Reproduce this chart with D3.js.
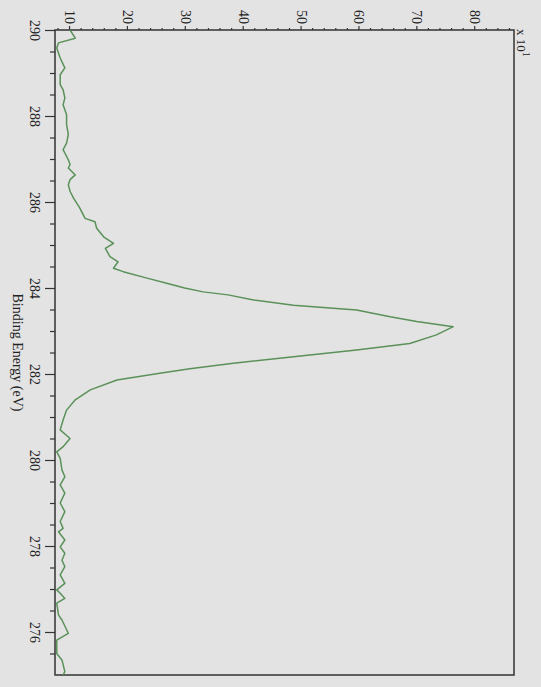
<!DOCTYPE html>
<html>
<head>
<meta charset="utf-8">
<script src="https://cdn.jsdelivr.net/npm/d3@7"></script>
<style>
  body { margin: 0; background: #e3e3e3; }
  svg { display: block; }
  text { font-family: "Liberation Serif", "DejaVu Serif", serif; }
</style>
</head>
<body>
<div id="graph_01"></div>
<script>
// Binding energy (eV) and counts (x10^1)
const energy = [
  290.00, 289.81, 289.70, 289.58, 289.35, 289.12, 288.96, 288.73, 288.61, 288.42,
  288.26, 288.03, 287.80, 287.57, 287.37, 287.22, 287.14, 286.98, 286.87, 286.79,
  286.63, 286.52, 286.40, 286.25, 286.09, 285.88, 285.62, 285.54, 285.39, 285.19,
  285.04, 284.92, 284.73, 284.61, 284.46, 284.38, 284.23, 284.11, 284.00, 283.91,
  283.84, 283.72, 283.60, 283.49, 283.33, 283.22, 283.10, 282.91, 282.71, 282.56,
  282.40, 282.25, 282.12, 282.02, 281.86, 281.63, 281.40, 281.16, 280.93, 280.70,
  280.50, 280.31, 280.19, 280.04, 279.77, 279.61, 279.42, 279.23, 279.00, 278.80,
  278.57, 278.41, 278.33, 278.14, 277.98, 277.83, 277.67, 277.52, 277.33, 277.13,
  276.98, 276.90, 276.78, 276.67, 276.40, 276.28, 275.97, 275.81, 275.50, 275.35,
  275.08, 275.00
];
const counts = [
  10.0, 10.9, 8.0, 7.7, 8.3, 9.1, 8.3, 8.3, 8.8, 9.1,
  8.8, 9.4, 9.4, 9.7, 9.4, 8.8, 9.1, 9.7, 10.0, 9.7,
  10.9, 10.0, 9.7, 10.0, 10.6, 11.6, 12.6, 14.3, 14.6, 15.8,
  17.5, 16.1, 16.9, 18.3, 17.5, 19.2, 23.3, 26.7, 29.8, 33.0,
  37.3, 41.7, 48.6, 59.5, 65.3, 69.9, 76.2, 73.3, 68.7, 59.5,
  48.6, 38.2, 30.7, 25.5, 18.1, 13.5, 10.9, 9.4, 8.8, 8.3,
  10.0, 8.8, 7.7, 8.3, 8.6, 9.1, 8.3, 9.1, 8.3, 9.1,
  8.3, 8.8, 8.0, 9.1, 8.3, 9.1, 8.6, 9.1, 8.3, 9.1,
  7.7, 8.3, 9.1, 7.7, 8.0, 8.6, 9.7, 7.7, 7.7, 8.6,
  9.1, 8.8
];

const energyTicks = [290, 288, 286, 284, 282, 280, 278, 276];
const countTicks = [10, 20, 30, 40, 50, 60, 70, 80];

const W = 541, H = 687;
// plot box in page pixels (the chart is drawn rotated a quarter turn)
const box = { left: 55, top: 30, right: 514, bottom: 675 };
const innerW = box.bottom - box.top;   // length of energy axis
const innerH = box.right - box.left;   // length of counts axis

const axisColor = '#333';

const svg = d3.select('#graph_01')
  .append('svg')
  .attr('width', W)
  .attr('height', H);

svg.append('rect')
  .attr('width', W)
  .attr('height', H)
  .attr('fill', '#e3e3e3');

const g = svg.append('g')
  .attr('transform', `translate(${box.right},${box.top}) rotate(90)`);

// scales
const x = d3.scaleLinear().domain([290, 275]).range([0, innerW]);
const y = d3.scaleLinear().domain([7.4, 86.7]).range([innerH, 0]);

const styleAxis = sel => {
  sel.select('.domain').remove();
  sel.selectAll('line').attr('stroke', axisColor).attr('stroke-width', 1.2);
  sel.selectAll('text').attr('fill', '#222').attr('font-size', 14);
};

// energy axis: minor then major ticks
g.append('g')
  .attr('transform', `translate(0,${innerH})`)
  .call(d3.axisBottom(x)
    .tickValues(d3.range(275.5, 290, 0.5).filter(v => v % 2 !== 0))
    .tickSize(5)
    .tickFormat(''))
  .call(styleAxis);

g.append('g')
  .attr('transform', `translate(0,${innerH})`)
  .call(d3.axisBottom(x)
    .tickValues(energyTicks)
    .tickSize(10)
    .tickPadding(5)
    .tickFormat(d3.format('d')))
  .call(styleAxis);

// counts axis: minor dots then major ticks
g.append('g')
  .call(d3.axisLeft(y)
    .tickValues(d3.range(8, 87, 2).filter(v => v % 10 !== 0))
    .tickSize(2)
    .tickFormat(''))
  .call(styleAxis);

g.append('g')
  .call(d3.axisLeft(y)
    .tickValues(countTicks)
    .tickSize(4)
    .tickPadding(2)
    .tickFormat(d3.format('d')))
  .call(styleAxis);

// frame
g.append('rect')
  .attr('width', innerW)
  .attr('height', innerH)
  .attr('fill', 'none')
  .attr('stroke', axisColor)
  .attr('stroke-width', 1.5);

// spectrum
const line = d3.line()
  .x(d => x(d[0]))
  .y(d => y(d[1]));

g.append('path')
  .datum(d3.zip(energy, counts))
  .attr('d', line)
  .attr('fill', 'none')
  .attr('stroke', '#5a9159')
  .attr('stroke-width', 1.5)
  .attr('stroke-linejoin', 'round');

// axis title
g.append('text')
  .attr('x', innerW / 2)
  .attr('y', innerH + 42)
  .attr('text-anchor', 'middle')
  .attr('font-size', 14)
  .attr('fill', '#222')
  .text('Binding Energy (eV)');

// multiplier
const mult = g.append('text')
  .attr('x', -1)
  .attr('y', -3)
  .attr('font-size', 13)
  .attr('fill', '#222')
  .text('x 10');

mult.append('tspan')
  .attr('dy', -6)
  .attr('font-size', 10)
  .text('1');
</script>
</body>
</html>
